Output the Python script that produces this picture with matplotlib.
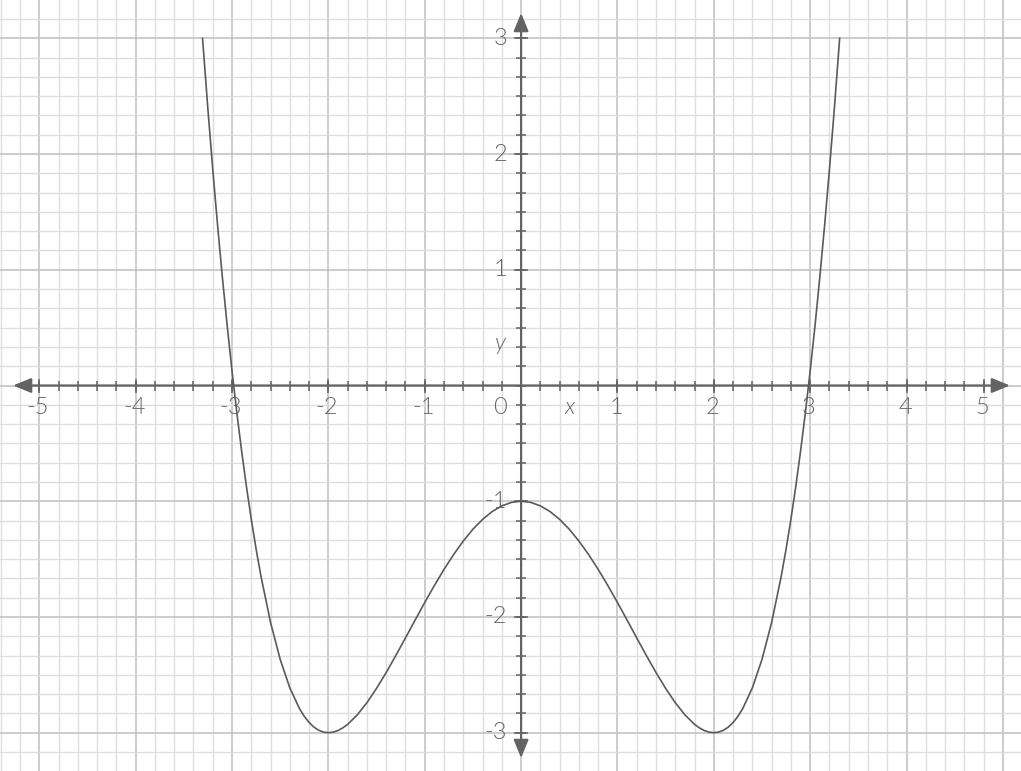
import matplotlib.pyplot as plt
import numpy as np
from matplotlib.ticker import MultipleLocator

# curve values (right half, the curve is symmetric)
x_half = [0.0, 0.1, 0.2, 0.3, 0.4, 0.5, 0.6, 0.7, 0.8, 0.9, 1.0, 1.1, 1.2,
          1.3, 1.4, 1.5, 1.6, 1.7, 1.8, 1.85, 1.9, 1.95, 2.0, 2.05, 2.1,
          2.15, 2.2, 2.25, 2.3, 2.4, 2.5, 2.6, 2.7, 2.75, 2.8, 2.85, 2.9,
          2.95, 3.0, 3.05, 3.1, 3.15, 3.2, 3.25, 3.3, 3.306]
y_half = [-1.0, -1.01, -1.04, -1.089, -1.157, -1.242, -1.344, -1.46, -1.589,
          -1.728, -1.875, -2.027, -2.181, -2.333, -2.48, -2.617, -2.741,
          -2.846, -2.928, -2.958, -2.981, -2.995, -3.0, -2.995, -2.979,
          -2.952, -2.912, -2.859, -2.792, -2.613, -2.367, -2.048, -1.647,
          -1.414, -1.157, -0.876, -0.569, -0.236, 0.125, 0.515, 0.934,
          1.385, 1.867, 2.383, 2.934, 3.0]

x_tick_labels = ['-5', '-4', '-3', '-2', '-1', '1', '2', '3', '4', '5']
y_tick_labels = ['-3', '-2', '-1', '1', '2', '3']

x_vals = np.concatenate([-np.array(x_half[::-1]), np.array(x_half[1:])])
y_vals = np.concatenate([np.array(y_half[::-1]), np.array(y_half[1:])])

axis_col = '#636363'
text_col = '#666666'
font = dict(family=['Lato', 'DejaVu Sans'], weight=300, size=17, color=text_col)

fig = plt.figure(figsize=(10.21, 7.71), dpi=100)
ax = fig.add_axes([0, 0, 1, 1])
ax.set_xlim(-5.408, 5.188)
ax.set_ylim(-3.331, 3.331)

# grid
ax.xaxis.set_major_locator(MultipleLocator(1))
ax.xaxis.set_minor_locator(MultipleLocator(0.2))
ax.yaxis.set_major_locator(MultipleLocator(1))
ax.yaxis.set_minor_locator(MultipleLocator(1 / 6))
ax.grid(which='major', color='#c4c4c4', lw=1.2)
ax.grid(which='minor', color='#dedede', lw=1.0)
ax.tick_params(which='both', length=0, labelbottom=False, labelleft=False)
for s in ax.spines.values():
    s.set_visible(False)
ax.set_axisbelow(True)

# axes with arrows
arrow = dict(arrowstyle='-|>,head_length=1.1,head_width=0.45', color=axis_col,
             lw=1.6, shrinkA=0, shrinkB=0, mutation_scale=10)
ax.annotate('', xy=(5.074, 0), xytext=(0, 0), arrowprops=arrow)
ax.annotate('', xy=(-5.273, 0), xytext=(0, 0), arrowprops=arrow)
ax.annotate('', xy=(0, 3.219), xytext=(0, 0), arrowprops=arrow)
ax.annotate('', xy=(0, -3.219), xytext=(0, 0), arrowprops=arrow)

# tick marks on the axes
xt_minor = np.arange(-25, 25) * 0.2
ax.plot(xt_minor, np.zeros_like(xt_minor), ls='none', marker='|',
        ms=7.5, mew=1.1, color=axis_col)
yt_minor = np.arange(-18, 19) / 6
ax.plot(np.zeros_like(yt_minor), yt_minor, ls='none', marker='_',
        ms=7.5, mew=1.1, color=axis_col)

# the last x label sits one minor step short of 5 in the reference
xt_major = [-5, -4, -3, -2, -1, 1, 2, 3, 4, 4.8]
ax.plot(xt_major, np.zeros(len(xt_major)), ls='none', marker='|',
        ms=10, mew=1.1, color=axis_col)
yt_major = [-3, -2, -1, 1, 2, 3]
ax.plot(np.zeros(len(yt_major)), yt_major, ls='none', marker='_',
        ms=10, mew=1.1, color=axis_col)

for xv, lab in zip(xt_major, x_tick_labels):
    ax.annotate(lab, (xv, 0), xytext=(-1, -16), textcoords='offset points',
                ha='center', va='center', **font)
for yv, lab in zip(yt_major, y_tick_labels):
    ax.annotate(lab, (0, yv), xytext=(-10, 0), textcoords='offset points',
                ha='right', va='center', **font)
ax.annotate('0', (0, 0), xytext=(-15, -16), textcoords='offset points',
            ha='center', va='center', **font)

ax.text(0.507, -0.194, 'x', ha='center', va='center', style='italic', **font)
ax.text(-0.219, 0.367, 'y', ha='center', va='center', style='italic', **font)

# curve
ax.plot(x_vals, y_vals, color='#5a5a5a', lw=1.2, zorder=5)

fig.savefig('out.png', dpi=100)
